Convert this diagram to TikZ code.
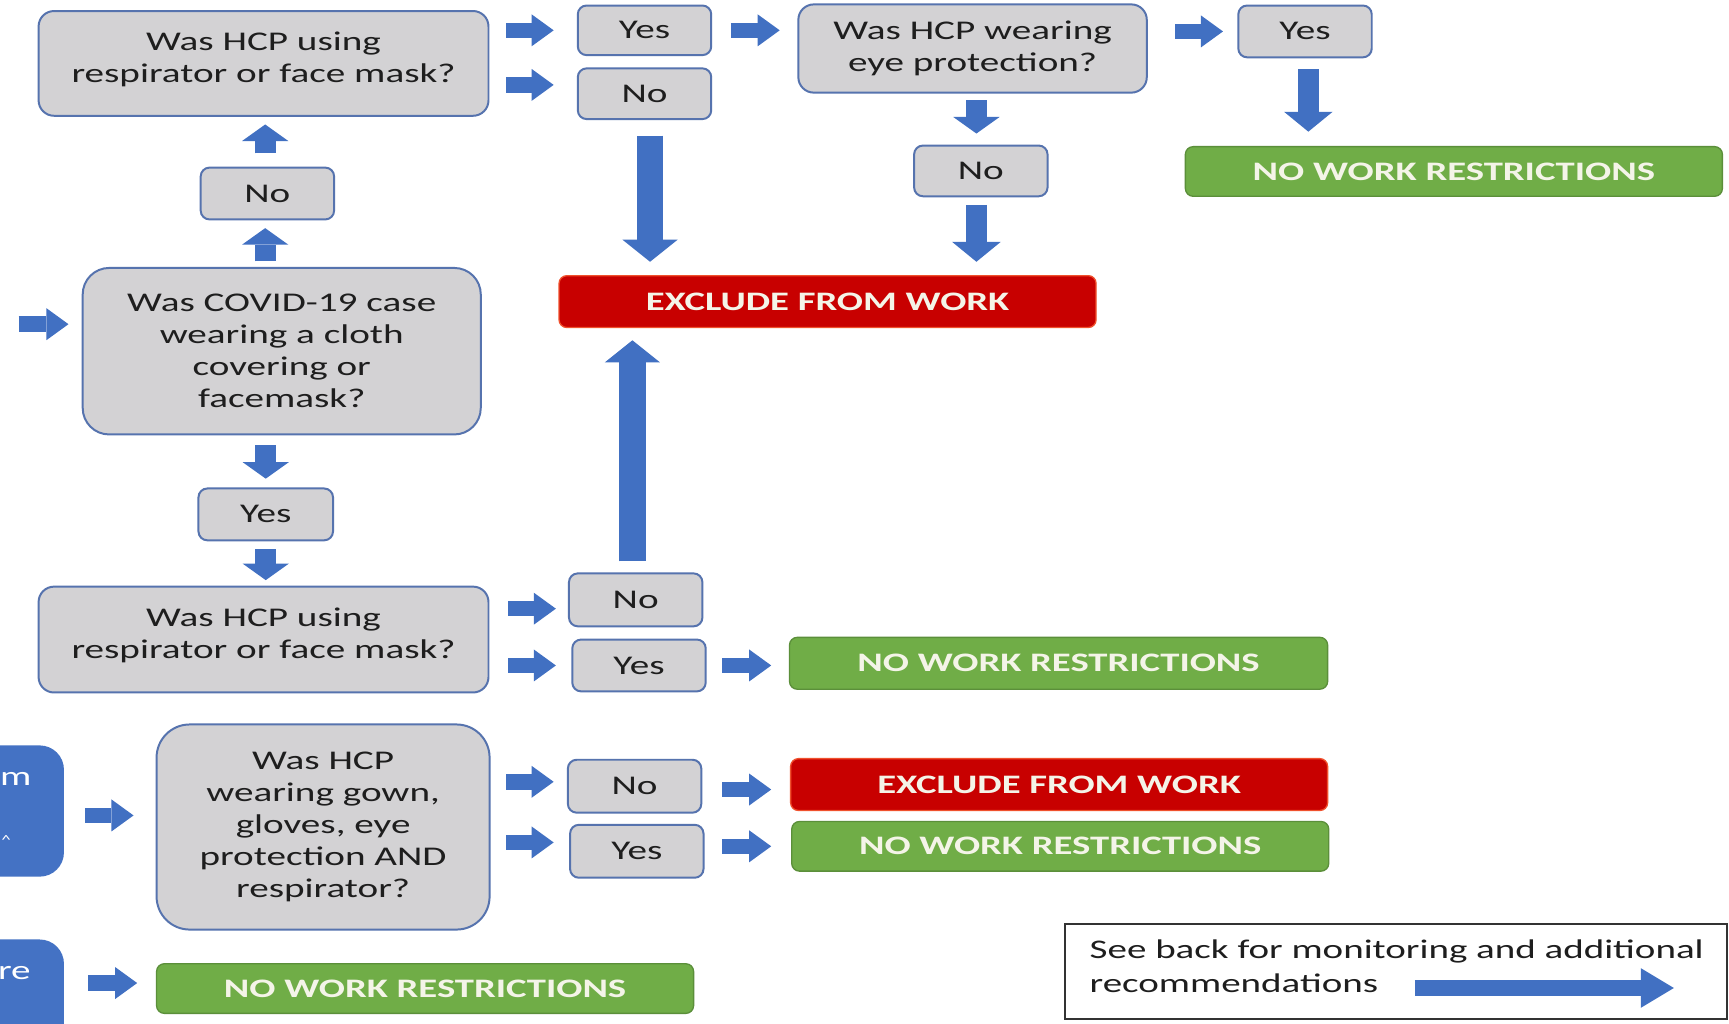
\documentclass[tikz,border=0pt]{standalone}
\usepackage{fontspec}
\setmainfont{Carlito}[FakeStretch=1.45]
\usetikzlibrary{arrows.meta,calc}
\definecolor{boxgray}{HTML}{D3D2D4}
\definecolor{boxedge}{HTML}{5673AE}
\definecolor{arrblue}{HTML}{4170C2}
\definecolor{exred}{HTML}{C80000}
\definecolor{exedge}{HTML}{F0502D}
\definecolor{okgreen}{HTML}{70AD47}
\definecolor{okedge}{HTML}{5B8F3A}
\definecolor{txt}{HTML}{1E1E1E}
\definecolor{restxt}{HTML}{F4F4E8}
\definecolor{sideblue}{HTML}{4472C4}
\begin{document}
\begin{tikzpicture}[x=1pt,y=-1pt,
  q/.style={draw=boxedge, line width=1.8pt, fill=boxgray, rounded corners=14pt,
    text=txt, align=center, inner sep=0pt, font=\fontsize{24.5}{29}\selectfont},
  yn/.style={q, rounded corners=8pt, minimum width=121pt, minimum height=46pt},
  res/.style={rounded corners=7pt, inner sep=0pt, text=restxt,
    font=\bfseries\fontsize{24.2}{28}\selectfont, minimum width=487pt, minimum height=46pt},
  ok/.style={res, fill=okgreen, draw=okedge, line width=1.2pt},
  ex/.style={res, fill=exred, draw=exedge, line width=1.2pt},
  side/.style={fill=sideblue, rounded corners=22pt, inner sep=0pt},
  sidetxt/.style={text=white, font=\fontsize{24.5}{29}\selectfont, inner sep=0pt},
  sarr/.style={draw=arrblue, line width=14pt,
    -{Triangle[width=29pt,length=20pt,line width=0pt]}},
  varr/.style={draw=arrblue, line width=19pt,
    -{Triangle[width=42pt,length=15pt,line width=0pt]}},
  marr/.style={draw=arrblue, line width=19pt,
    -{Triangle[width=44pt,length=18pt,line width=0pt]}},
  larr/.style={draw=arrblue, line width=24pt,
    -{Triangle[width=50pt,length=20pt,line width=0pt]}},
  narr/.style={draw=arrblue, line width=14pt,
    -{Triangle[width=36pt,length=30pt,line width=0pt]}}
]
\useasboundingbox (0,0) rectangle (1568,928);
\fill[white] (0,0) rectangle (1568,928);

% ---- top row
\node[q, minimum width=408pt, minimum height=95pt, text depth=12pt] (Q1) at (239,57.5) {Was HCP using\\respirator or face mask?};
\node[yn, minimum height=45pt] (Yes1) at (584.5,27.5) {Yes};
\node[yn] (No1) at (584.5,85) {No};
\node[q, minimum width=316pt, minimum height=80pt] (Q2) at (882,44) {Was HCP wearing\\eye protection?};
\node[yn, minimum height=47pt] (Yes2) at (1183.5,28.5) {Yes};
\node[ok, minimum height=45pt] (NWR1) at (1318.5,155.5) {NO WORK RESTRICTIONS};
\node[yn] (No2) at (889.5,155) {No};
\node[ex, minimum height=47pt] (EXCL1) at (750.5,273.5) {EXCLUDE FROM WORK};

% ---- left column
\node[yn, minimum height=47pt] (No0) at (242.5,175.5) {No};
\node[q, minimum width=361pt, minimum height=151pt, rounded corners=24pt] (Q0) at (255.5,318.5) {Was COVID-19 case\\wearing a cloth\\covering or\\facemask?};
\coordinate (in0) at (17,294);
\node[yn, minimum width=122pt, minimum height=47pt] (Yes0) at (241,466.5) {Yes};
\node[q, minimum width=408pt, minimum height=96pt, text depth=12pt] (Q3) at (239,580) {Was HCP using\\respirator or face mask?};
\node[yn, minimum height=48pt] (No3) at (576.5,544) {No};
\node[yn, minimum height=47pt] (Yes3) at (579.5,603.5) {Yes};
\node[ok, minimum width=488pt, minimum height=47pt] (NWR2) at (960,601.5) {NO WORK RESTRICTIONS};

% ---- bottom block
\node[side, minimum width=118pt, minimum height=119pt] (B1) at (-1,735.5) {};
\node[sidetxt, anchor=base west] (B1a) at (0,712) {m};
\node[sidetxt, anchor=base west, font=\fontsize{12}{14}\selectfont] (B1b) at (1,766) {\textasciicircum};
\node[q, minimum width=302pt, minimum height=186pt, rounded corners=30pt] (Q4) at (293,750) {Was HCP\\wearing gown,\\gloves, eye\\protection AND\\respirator?};
\node[yn, minimum height=48pt] (No4) at (575.5,713) {No};
\node[yn, minimum height=48pt] (Yes4) at (577.5,772) {Yes};
\node[ex, minimum height=47pt] (EXCL2) at (960.5,711.5) {EXCLUDE FROM WORK};
\node[ok, minimum height=45pt] (NWR3) at (961.5,767.5) {NO WORK RESTRICTIONS};

\node[side, minimum width=118pt, minimum height=120pt] (B2) at (-1,912) {};
\node[sidetxt, anchor=base west] (B2a) at (-2,888) {re};
\node[ok, minimum height=45pt] (NWR4) at (385.5,896.5) {NO WORK RESTRICTIONS};

% ---- note box
\node[draw=black!80, line width=1.4pt, fill=white, minimum width=600pt, minimum height=86pt, inner sep=0pt] (Note) at (1266,881) {};
\node[anchor=west, align=left, text=txt, inner sep=0pt, font=\fontsize{24.4}{31}\selectfont] (NoteTxt) at (988,876.5) {See back for monitoring and additional\\recommendations};
\coordinate (na1) at (1283,896);
\coordinate (na2) at (1518,896);

% ---- arrows
\draw[sarr, shorten <=15pt, shorten >=21pt] (Q1.east |- Yes1.center) -- (Yes1.west);
\draw[sarr, shorten <=15pt, shorten >=21pt] ([yshift=8pt]Q1.east |- No1.center) -- ([yshift=8pt]No1.west);
\draw[sarr, shorten <=17pt, shorten >=16pt] (Yes1.east) -- (Q2.west |- Yes1.east);
\draw[sarr, shorten <=25pt, shorten >=13pt] (Q2.east |- Yes2.center) -- (Yes2.west);
\draw[marr, shorten <=10pt, shorten >=13pt] ([xshift=3pt]Yes2.south) -- ([xshift=3pt]Yes2.south |- NWR1.north);
\draw[varr, shorten <=6pt, shorten >=10pt] ([xshift=-4pt]No2.north |- Q2.south) -- ([xshift=-4pt]No2.north);
\draw[marr, shorten <=7pt, shorten >=12pt] ([xshift=-4pt]No2.south) -- ([xshift=-4pt]No2.south |- EXCL1.north);
\draw[larr, shorten <=14pt, shorten >=12pt] ([xshift=5pt]No1.south) -- ([xshift=5pt]No1.south |- EXCL1.north);
\draw[larr, shorten <=10pt, shorten >=11pt] ([xshift=-3pt]No3.north) -- ([xshift=-3pt]No3.north |- EXCL1.south);
\draw[varr, shorten <=12pt, shorten >=7pt] ([xshift=-2pt]No0.north) -- ([xshift=-2pt]No0.north |- Q1.south);
\draw[varr, shorten <=5pt, shorten >=7pt] ([xshift=-2pt]Q0.north -| No0.center) -- ([xshift=-2pt]No0.south);
\draw[sarr, shorten >=12pt] (in0) -- (Q0.west |- in0);
\draw[varr, shorten <=9pt, shorten >=8pt] (Q0.south -| Yes0.center) -- (Yes0.north);
\draw[varr, shorten <=7pt, shorten >=5pt] (Yes0.south) -- (Yes0.south |- Q3.north);
\draw[sarr, shorten <=17pt, shorten >=11pt] ([yshift=-8pt]Q3.east |- No3.center) -- ([yshift=-8pt]No3.west);
\draw[sarr, shorten <=17pt, shorten >=14pt] (Q3.east |- Yes3.center) -- (Yes3.west);
\draw[sarr, shorten <=14pt, shorten >=16pt] (Yes3.east) -- (NWR2.west |- Yes3.east);
\draw[sarr, shorten <=19pt, shorten >=20pt] ([yshift=-4pt]B1.east) -- ([yshift=-4pt]Q4.west |- B1.east);
\draw[sarr, shorten <=14pt, shorten >=12pt] ([yshift=4pt]Q4.east |- No4.center) -- ([yshift=4pt]No4.west);
\draw[sarr, shorten <=14pt, shorten >=14pt] ([yshift=8pt]Q4.east |- Yes4.center) -- ([yshift=8pt]Yes4.west);
\draw[sarr, shorten <=18pt, shorten >=17pt] ([yshift=-3pt]No4.east) -- ([yshift=-3pt]EXCL2.west |- No4.east);
\draw[sarr, shorten <=16pt, shorten >=18pt] (Yes4.east |- NWR3.west) -- (NWR3.west);
\draw[sarr, shorten <=22pt, shorten >=17pt] ([yshift=5pt]B2.east |- NWR4.west) -- ([yshift=5pt]NWR4.west);
\draw[narr] (na1) -- (na2);
\end{tikzpicture}
\end{document}
